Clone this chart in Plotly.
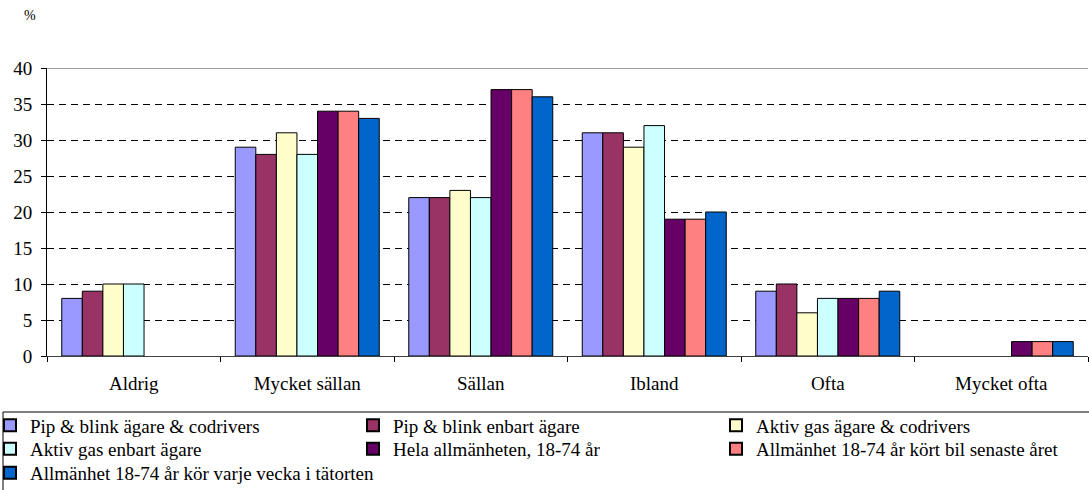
import plotly.graph_objects as go

categories = ["Aldrig", "Mycket sällan", "Sällan", "Ibland", "Ofta", "Mycket ofta"]
series_names = [
    "Pip & blink ägare & codrivers",
    "Pip & blink enbart ägare",
    "Aktiv gas ägare & codrivers",
    "Aktiv gas enbart ägare",
    "Hela allmänheten, 18-74 år",
    "Allmänhet 18-74 år kört bil senaste året",
    "Allmänhet 18-74 år kör varje vecka i tätorten",
]
pip_blink_agare_codrivers = [8, 29, 22, 31, 9, None]
pip_blink_enbart_agare = [9, 28, 22, 31, 10, None]
aktiv_gas_agare_codrivers = [10, 31, 23, 29, 6, None]
aktiv_gas_enbart_agare = [10, 28, 22, 32, 8, None]
hela_allmanheten = [None, 34, 37, 19, 8, 2]
allmanhet_kort_bil = [None, 34, 37, 19, 8, 2]
allmanhet_varje_vecka = [None, 33, 36, 20, 9, 2]
series_values = [
    pip_blink_agare_codrivers,
    pip_blink_enbart_agare,
    aktiv_gas_agare_codrivers,
    aktiv_gas_enbart_agare,
    hela_allmanheten,
    allmanhet_kort_bil,
    allmanhet_varje_vecka,
]
colors = ["#9999FF", "#993366", "#FFFFCC", "#CCFFFF", "#660066", "#FF8080", "#0066CC"]
y_ticks = [0, 5, 10, 15, 20, 25, 30, 35, 40]

W, H = 1089, 490
L, R, T, B = 47, 1, 68, 134
pw = W - L - R
ph = H - T - B

def px_x(p):
    return (p - L) / pw

def px_y(p):
    return (H - B - p) / ph

FONT = "Liberation Serif, Times New Roman, serif"
legend_ids = ["legend", "legend", "legend", "legend2", "legend2", "legend2", "legend3"]

fig = go.Figure()
for name, vals, col, lg in zip(series_names, series_values, colors, legend_ids):
    fig.add_trace(go.Bar(
        name=name, x=categories, y=vals, legend=lg,
        marker=dict(color=col, line=dict(color="black", width=1)),
    ))

def legend_row(top_px, entrywidth=318):
    d = dict(
        orientation="h", x=px_x(-10), y=px_y(top_px), xanchor="left", yanchor="top",
        font=dict(family=FONT, size=19, color="black"),
        bgcolor="rgba(0,0,0,0)", borderwidth=0,
        traceorder="normal", itemsizing="constant",
    )
    if entrywidth:
        d.update(entrywidth=entrywidth, entrywidthmode="pixels")
    return d

fig.update_layout(
    width=W, height=H,
    margin=dict(l=L, r=R, t=T, b=B, pad=0, autoexpand=False),
    paper_bgcolor="white", plot_bgcolor="white",
    barmode="group", bargap=0.17, bargroupgap=0,
    font=dict(family=FONT, size=19, color="black"),
    showlegend=True,
    legend=legend_row(406.5),
    legend2=legend_row(430),
    legend3=legend_row(454, entrywidth=None),
    xaxis=dict(
        type="category", showline=True, linecolor="#404040", linewidth=1,
        ticks="outside", tickson="boundaries", ticklen=5, tickcolor="black",
        showgrid=False, tickfont=dict(family=FONT, size=19), fixedrange=True,
        automargin=False, ticklabelstandoff=10,
    ),
    yaxis=dict(
        range=[0, 40], tickvals=y_ticks, showline=True, linecolor="black", linewidth=1,
        ticks="outside", ticklen=5, tickcolor="black",
        showgrid=True, gridcolor="black", gridwidth=1, griddash="7px,5px",
        zeroline=False, tickfont=dict(family=FONT, size=19), fixedrange=True,
        automargin=False, ticklabelstandoff=5,
    ),
    shapes=[
        dict(type="line", xref="paper", yref="y", x0=0, x1=1, y0=40, y1=40,
             line=dict(color="#808080", width=1.5)),
        dict(type="rect", xref="paper", yref="paper",
             x0=px_x(3), x1=px_x(1100), y0=px_y(412), y1=px_y(500),
             line=dict(color="black", width=1), fillcolor="rgba(0,0,0,0)"),
    ],
    annotations=[
        dict(text="%", xref="paper", yref="paper", x=px_x(22), y=px_y(16),
             xanchor="left", yanchor="middle", showarrow=False,
             font=dict(family=FONT, size=14, color="black")),
    ],
)

fig.write_html(
    "out.html",
    config={"displayModeBar": False},
    post_script="document.body.style.margin='0';document.body.style.overflow='hidden';",
)
